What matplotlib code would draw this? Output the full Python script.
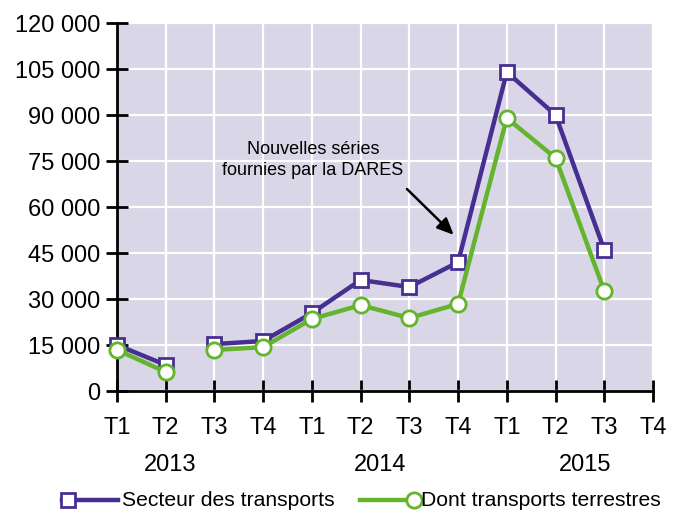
import numpy as np
import matplotlib
matplotlib.use("Agg")
import matplotlib.pyplot as plt
from matplotlib.lines import Line2D

plt.rcParams['font.family'] = ['Liberation Sans', 'DejaVu Sans']

quarters = ["T1", "T2", "T3", "T4"] * 3
years = ["2013", "2014", "2015"]
year_pos = [1.1, 5.4, 9.6]
secteur = [15000, 8500, 15300, 16300, 25400, 36200, 33900, 42000, 104000, 90000, 46000]
terrestre = [13400, 6200, 13400, 14300, 23500, 28000, 23800, 28400, 89000, 76000, 32600]

purple = "#472f92"
green = "#64b42d"

fig = plt.figure(figsize=(6.83, 5.13), dpi=100)
ax = fig.add_axes([117/683, 1-391/513, (653-117)/683, (391-23)/513])
ax.set_facecolor("#d9d6e8")

x = np.arange(len(secteur))
# gap between T2 and T3 2013
for sl in (slice(0, 2), slice(2, None)):
    ax.plot(x[sl], secteur[sl], color=purple, lw=3.2, marker="s", ms=10,
            mfc="white", mec=purple, mew=2, zorder=3, clip_on=False)
    ax.plot(x[sl], terrestre[sl], color=green, lw=3.2, marker="o", ms=11,
            mfc="white", mec=green, mew=2, zorder=4, clip_on=False)

ax.set_xlim(0, 11)
ax.set_ylim(0, 120000)
ax.set_xticks(np.arange(12))
ax.set_xticklabels(quarters)
ax.set_yticks(np.arange(0, 120001, 15000))
ax.set_yticklabels(["0" if v == 0 else f"{v:,}".replace(",", " ") for v in range(0, 120001, 15000)])
ax.grid(color="white", lw=1.6)
ax.set_axisbelow(True)
for s in ("top", "right"):
    ax.spines[s].set_visible(False)
for s in ("left", "bottom"):
    ax.spines[s].set_linewidth(2)
ax.tick_params(direction="inout", length=16, width=2, labelsize=17, pad=4)
ax.tick_params(axis="x", pad=11)

for yp, yr in zip(year_pos, years):
    ax.text(yp, -0.201, yr, transform=ax.get_xaxis_transform(), ha="center",
            va="center", fontsize=17)

ax.annotate("Nouvelles séries\nfournies par la DARES", xy=(6.9, 50900), xytext=(4.02, 75300),
            ha="center", va="center", fontsize=13, linespacing=1.3, zorder=5)
ax.annotate("", xy=(6.95, 50300), xytext=(5.91, 66500),
            arrowprops=dict(arrowstyle="-|>,head_length=1.0,head_width=0.45", color="black", lw=1.8))

# legend
ly = 1 - 500/513
fig.add_artist(Line2D([62/683, 118/683], [ly, ly], color=purple, lw=3.2))
fig.add_artist(Line2D([68/683], [ly], color=purple, marker="s", ms=10, mfc="white", mec=purple, mew=2))
fig.text(122/683, ly, "Secteur des transports", fontsize=15.2, va="center", ha="left")
fig.add_artist(Line2D([360/683, 415/683], [ly, ly], color=green, lw=3.2))
fig.add_artist(Line2D([414/683], [ly], color=green, marker="o", ms=11, mfc="white", mec=green, mew=2))
fig.text(421/683, ly, "Dont transports terrestres", fontsize=15.2, va="center", ha="left")

fig.savefig("out.png", dpi=100)
